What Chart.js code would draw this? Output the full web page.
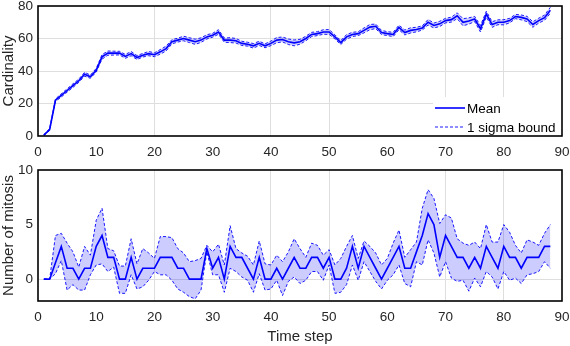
<!DOCTYPE html>
<html>
<head>
<meta charset="utf-8">
<script src="https://cdn.jsdelivr.net/npm/chart.js@4.4.0/dist/chart.umd.min.js"></script>
<style>
  body { margin: 0; background: #fff; }
  #wrap { position: relative; width: 570px; height: 346px; }
  canvas { position: absolute; left: 0; }
</style>
</head>
<body>
<div id="wrap">
  <canvas id="cardChart" width="570" height="160" style="top:0;width:570px;height:160px"></canvas>
  <canvas id="mitosisChart" width="570" height="186" style="top:160px;width:570px;height:186px"></canvas>
</div>
<script>
// time steps
const steps = [1,2,3,4,5,6,7,8,9,10,11,12,13,14,15,16,17,18,19,20,
  21,22,23,24,25,26,27,28,29,30,31,32,33,34,35,36,37,38,39,40,
  41,42,43,44,45,46,47,48,49,50,51,52,53,54,55,56,57,58,59,60,
  61,62,63,64,65,66,67,68,69,70,71,72,73,74,75,76,77,78,79,80,
  81,82,83,84,85,86,87,88];

// cardinality (mean and 1 sigma)
const cardMean = [0.5,4,22,25,28,31,34,38,36.5,40.5,
  48.7,51,51,51,49,50.7,48.3,49.7,50.7,50,
  51.8,53.8,58,59,60,59,58,59,61,62,
  64,59,59,58.6,57,56.5,55.5,57,55.5,57,
  59,59.4,58,57.3,58,60,62.5,63,64,64,
  61,57.5,61,62.5,63,65,67,67.5,63.7,63,
  62.5,66.8,63.7,65,65.5,66.5,70,68,69,71,
  71.6,74,70,70.8,72,66,75,68.6,70,70,
  71,73.5,73,72,68.6,71,72.8,77.4];
const cardStd = [0.3,0.6,0.8,1.0,1.0,1.1,1.0,1.2,1.0,1.1,
  1.4,1.3,1.2,1.1,1.2,1.3,1.2,1.1,1.3,1.2,
  1.4,1.5,1.3,1.2,1.4,1.5,1.6,1.4,1.3,1.2,
  1.4,1.3,1.5,1.4,1.3,1.2,1.4,1.3,1.2,1.4,
  1.6,1.5,1.7,1.8,1.5,1.4,1.3,1.2,1.4,1.5,
  1.3,1.2,1.4,1.3,1.2,1.5,1.6,1.4,1.3,1.2,
  1.3,1.4,1.5,1.6,1.4,1.3,1.7,1.5,1.6,1.4,
  1.5,1.8,2.2,1.9,1.6,2.0,1.8,1.7,1.5,1.6,
  1.4,1.3,1.5,1.6,1.7,1.5,1.6,1.8];

// number of mitosis (mean and bounds)
const mitosisMean = [0,0,1.5,3,1,1,0,1,1,3,
  4,2,2,0,0,2,0,1,1,1,
  2,2,2,1,1,0,0,0,2.8,1,
  2,0,3,2,2,1,0,2,0,0,
  1,0,1,2,1,1,2,2,1,2,
  0,0,1,3,1,3,2,1,0,1,
  2,3,1,1,2.5,4,6,5,2,4,
  3,2,2,1,2,1,3,2,1,3,
  2,2,1,2,2,2,3,3];
const mitosisUpper = [0,0,4,4.2,3.3,2.5,1.1,3,2.2,5.4,
  6.5,2.8,2.6,1.2,1.2,3.7,1.4,2.8,2.4,1.9,
  3.9,3.9,3.8,2.8,2.4,1.6,1.7,1.9,3.1,2.5,
  3.2,1.3,4.9,2.8,2.4,2.1,1.3,3.5,1.4,1.3,
  2.2,1.6,2.5,3.7,2.8,2,3.3,3.1,2.2,2.7,
  1.3,1.9,3,4,1.9,3.5,3,2.4,1.3,1.9,
  3.3,4.5,2,2.7,3.4,6.5,8.2,7.4,5.1,5.9,
  5.6,3.7,3.3,3.1,3.4,2.8,5,3.4,3.4,5,
  4.3,3.1,2.4,3.6,3.4,3.1,4.2,5];
const mitosisLower = [0,0,0.5,1.7,-1,-0.5,-1,-1,0.4,1.3,
  1.4,0.7,1.1,-1.3,-1.3,0.4,-0.9,-0.7,-0.1,0.7,
  0.4,0.4,-0.1,-0.9,-1.2,-1.6,-1.8,-1,2.5,0.4,
  0.4,-1.2,1,0.7,0.2,-0.1,-1.2,0.5,-1,-0.9,
  -0.1,-1.5,-0.2,0.2,-0.4,-0.1,0.7,0.7,-0.1,1.3,
  -1.3,-1.2,-0.5,1.3,-0.1,1.6,0.7,-0.2,-0.9,-0.1,
  0.4,1.3,-0.4,-0.7,1.6,1.3,3.6,2.4,0.2,1.6,
  0.1,-0.2,-0.1,-1.1,0.1,-0.7,0.7,0.2,-0.9,0.7,
  -0.1,0.1,-0.4,0.4,0.5,0.7,1.6,1];

// tick labels
const xTicks = [0,10,20,30,40,50,60,70,80,90];
const cardTicks = [0,20,40,60,80];
const mitosisTicks = [0,5,10];

// only these grid lines show up in the original
const xGridShown = [20,40,50,70,80];
const cardGridShown = [20,40,60];
const mitosisGridShown = [0];

const BLUE = '#0000ff';
const BAND = 'rgba(0,0,255,0.2)';
const GRID = '#dedede';
const TXT = '#262626';
const FONT = 'Liberation Sans, Arial, sans-serif';

const pts = ys => steps.map((x, i) => ({ x: x, y: ys[i] }));

const framePlugin = {
  id: 'frame',
  afterDraw(chart) {
    const { ctx, chartArea: a } = chart;
    ctx.save();
    ctx.strokeStyle = '#000';
    ctx.lineWidth = 1.6;
    ctx.strokeRect(a.left, a.top, a.right - a.left, a.bottom - a.top);
    ctx.restore();
  }
};

// legend box in the lower right corner of the top plot
const boxLegend = {
  id: 'boxLegend',
  afterDraw(chart) {
    const { ctx, chartArea: a } = chart;
    const w = 129, h = 39;
    const x0 = a.right - w, y0 = a.bottom - h;
    const items = chart.data.datasets
      .filter(d => d.legendOrder !== undefined)
      .sort((p, q) => p.legendOrder - q.legendOrder);
    ctx.save();
    ctx.fillStyle = '#fff';
    ctx.fillRect(x0, y0, w, h);
    items.forEach((d, i) => {
      const y = y0 + 11 + i * 19;
      ctx.strokeStyle = d.borderColor;
      ctx.lineWidth = d.borderWidth;
      ctx.setLineDash(d.borderDash || []);
      ctx.beginPath();
      ctx.moveTo(x0 + 2, y);
      ctx.lineTo(x0 + 32, y);
      ctx.stroke();
      ctx.setLineDash([]);
      ctx.fillStyle = '#000';
      ctx.font = '13.5px ' + FONT;
      ctx.textBaseline = 'middle';
      ctx.fillText(d.label, x0 + 34, y + 1);
    });
    ctx.restore();
  }
};

function xAxis(height, title) {
  return {
    type: 'linear', min: 0, max: 90,
    afterBuildTicks: s => { s.ticks = xTicks.map(v => ({ value: v })); },
    afterFit: s => { s.height = height; s.paddingLeft = 0; s.paddingRight = 0; },
    grid: {
      drawTicks: false,
      color: c => xGridShown.includes(c.tick && c.tick.value) ? GRID : 'rgba(0,0,0,0)'
    },
    border: { display: false },
    ticks: { color: TXT, font: { family: FONT, size: 13.5 }, padding: 8, maxRotation: 0 },
    title: {
      display: !!title, text: title, color: TXT,
      font: { family: FONT, size: 15 }, padding: { top: 2, bottom: 0 }
    }
  };
}

function yAxis(min, max, ticks, shown, title) {
  return {
    type: 'linear', min: min, max: max,
    afterBuildTicks: s => { s.ticks = ticks.map(v => ({ value: v })); },
    afterFit: s => { s.width = 38; s.paddingTop = 0; s.paddingBottom = 0; },
    grid: {
      drawTicks: false,
      color: c => shown.includes(c.tick && c.tick.value) ? GRID : 'rgba(0,0,0,0)'
    },
    border: { display: false },
    ticks: { color: TXT, font: { family: FONT, size: 13.5 }, padding: 5 },
    title: {
      display: true, text: title, color: TXT,
      font: { family: FONT, size: 15 }, padding: { top: 0, bottom: 0 }
    }
  };
}

function bandSets(upper, lower, mean) {
  return [
    { label: '1 sigma bound', legendOrder: 1, data: pts(upper), borderColor: BLUE, borderWidth: 0.9,
      borderDash: [3, 2], backgroundColor: BAND, fill: '+1', pointRadius: 0, tension: 0 },
    { label: 'lower', data: pts(lower), borderColor: BLUE, borderWidth: 0.9,
      borderDash: [3, 2], fill: false, pointRadius: 0, tension: 0 },
    { label: 'Mean', legendOrder: 0, data: pts(mean), borderColor: BLUE, borderWidth: 1.6,
      fill: false, pointRadius: 0, tension: 0 }
  ];
}

const commonOpts = {
  responsive: false,
  animation: false,
  plugins: { legend: { display: false }, tooltip: { enabled: false } }
};

const cardUpper = cardMean.map((m, i) => m + cardStd[i]);
const cardLower = cardMean.map((m, i) => m - cardStd[i]);

new Chart(document.getElementById('cardChart').getContext('2d'), {
  type: 'line',
  data: { datasets: bandSets(cardUpper, cardLower, cardMean) },
  options: Object.assign({}, commonOpts, {
    layout: { padding: { top: 6, right: 8, left: 0, bottom: 0 } },
    scales: {
      x: xAxis(24, ''),
      y: yAxis(0, 80, cardTicks, cardGridShown, 'Cardinality')
    }
  }),
  plugins: [boxLegend, framePlugin]
});

new Chart(document.getElementById('mitosisChart').getContext('2d'), {
  type: 'line',
  data: { datasets: bandSets(mitosisUpper, mitosisLower, mitosisMean) },
  options: Object.assign({}, commonOpts, {
    layout: { padding: { top: 10, right: 8, left: 0, bottom: 0 } },
    scales: {
      x: xAxis(45, 'Time step'),
      y: yAxis(-2, 10, mitosisTicks, mitosisGridShown, 'Number of mitosis')
    }
  }),
  plugins: [framePlugin]
});
</script>
</body>
</html>
